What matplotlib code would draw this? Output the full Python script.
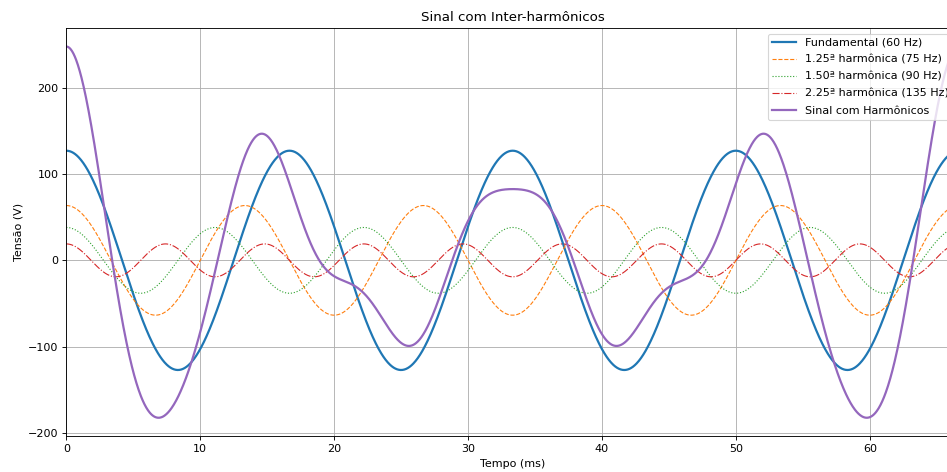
import numpy as np
import matplotlib.pyplot as plt

# dados do sinal
labels = ['Fundamental (60 Hz)',
          '1.25ª harmônica (75 Hz)',
          '1.50ª harmônica (90 Hz)',
          '2.25ª harmônica (135 Hz)']
freqs = [60, 75, 90, 135]          # Hz
amps = [127.0, 63.5, 38.1, 19.05]  # V (pico)
t_end_ms = 1000 * 4 / 60           # 4 ciclos da fundamental

styles = ['-', '--', ':', '-.']
widths = [2, 1, 1, 1]
colors = ['C0', 'C1', 'C2', 'C3']

t = np.linspace(0, t_end_ms / 1000, 2000)

fig = plt.figure(figsize=(947 / 80, 472 / 80), dpi=80)
ax = fig.add_axes([0.070, 0.0756, 1.0127 - 0.070, 0.9407 - 0.0756])

total = np.zeros_like(t)
for i in range(len(freqs)):
    v = amps[i] * np.cos(2 * np.pi * freqs[i] * t)
    total += v
    ax.plot(t * 1000, v, styles[i], c=colors[i], lw=widths[i], label=labels[i])
ax.plot(t * 1000, total, c='C4', lw=2, label='Sinal com Harmônicos')

ax.set_xlim(0, t_end_ms)
ax.set_title('Sinal com Inter-harmônicos')
ax.set_xlabel('Tempo (ms)')
ax.set_ylabel('Tensão (V)')
ax.grid(True)
ax.legend(loc='upper right', labelspacing=0.62, handlelength=2.15)

fig.savefig('out.png', dpi=80)
